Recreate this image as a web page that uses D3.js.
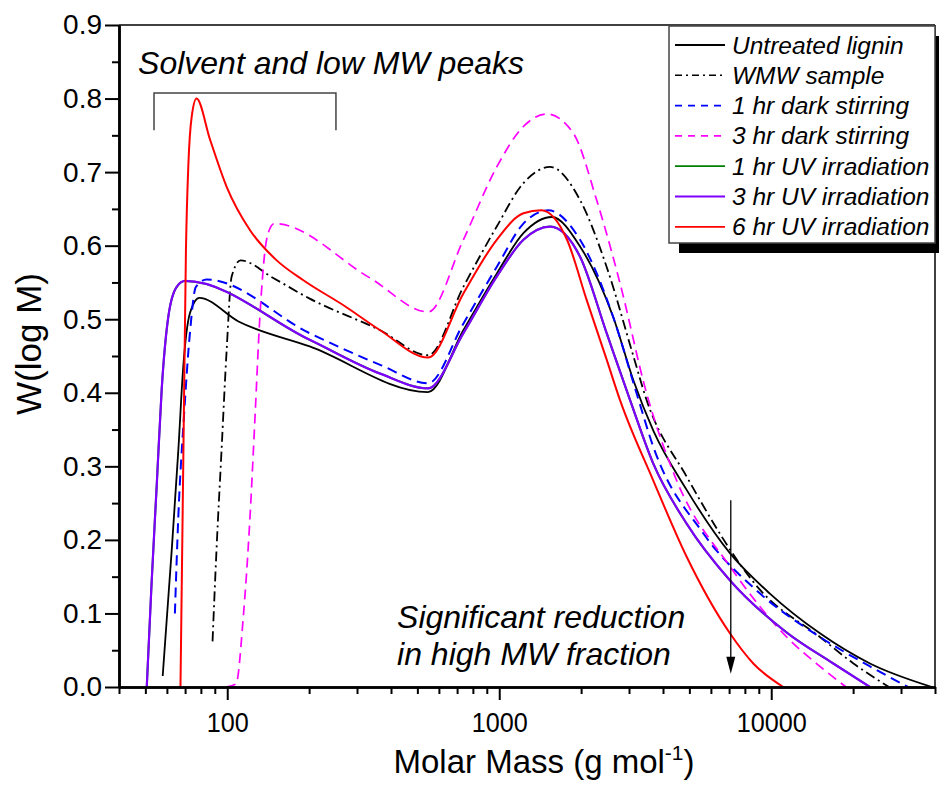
<!DOCTYPE html>
<html>
<head>
<meta charset="utf-8">
<script src="https://cdn.jsdelivr.net/npm/d3@7"></script>
<style>
  body { margin: 0; background: #fff; }
  svg { display: block; }
  text { font-family: "Liberation Sans", Arial, Helvetica, sans-serif; fill: #000; }
</style>
</head>
<body>
<svg id="chart" width="939" height="786"></svg>
<script>
// GPC molar mass distributions: [molar mass (g/mol), W(log M)]
const untreatedLignin = [[57.9,0.015],[62.5,0.186],[66.1,0.322],[68.9,0.435],[72.9,0.508],[78.9,0.529],[110,0.497],[201,0.463],[547,0.401],[738,0.485],[979,0.562],[1227,0.617],[1560,0.639],[1982,0.599],[2624,0.503],[3112,0.417],[3681,0.349],[4887,0.268],[7047,0.182],[9886,0.127],[15100,0.073],[23070,0.032],[39000,0]];
const wmwSample = [[88.3,0.062],[91.3,0.186],[95.3,0.322],[99.5,0.458],[103.8,0.558],[111.9,0.580],[147.6,0.556],[201,0.528],[365,0.485],[548,0.451],[738,0.544],[979,0.626],[1227,0.685],[1538,0.707],[1982,0.662],[2483,0.571],[3112,0.450],[3483,0.390],[4887,0.286],[9101,0.132],[15100,0.068],[20050,0.032],[27100,0]];
const darkStirring1h = [[64.2,0.100],[66.1,0.232],[69.3,0.367],[72.9,0.481],[76.7,0.544],[84,0.554],[201,0.481],[365,0.438],[548,0.413],[738,0.494],[979,0.571],[1227,0.630],[1514,0.648],[1982,0.608],[2624,0.503],[3200,0.399],[3681,0.327],[5623,0.209],[9100,0.127],[15100,0.068],[23070,0.028],[31840,0]];
const darkStirring3h = [[98.9,0],[107.7,0.004],[114.6,0.096],[121.3,0.232],[126.5,0.367],[131.8,0.503],[137.7,0.594],[143,0.622],[149,0.630],[335,0.556],[548,0.510],[738,0.608],[979,0.707],[1227,0.762],[1493,0.779],[1871,0.753],[2281,0.662],[2780,0.549],[3483,0.399],[4487,0.281],[7047,0.164],[11400,0.068],[15100,0.028],[18840,0]];
const uvIrradiation1h = [[50.6,0],[52.7,0.141],[55.1,0.277],[57.4,0.404],[60.7,0.503],[65.2,0.544],[70,0.552],[201,0.472],[365,0.426],[548,0.406],[738,0.481],[979,0.558],[1227,0.608],[1538,0.626],[1982,0.585],[2483,0.481],[3027,0.390],[3681,0.304],[4887,0.222],[7047,0.145],[11400,0.074],[16900,0.032],[23070,0]];
const uvIrradiation3h = [[50.6,0],[52.7,0.141],[55.1,0.277],[57.4,0.404],[60.7,0.503],[65.2,0.544],[70,0.552],[201,0.472],[365,0.426],[548,0.406],[738,0.481],[979,0.558],[1227,0.608],[1538,0.626],[1982,0.585],[2483,0.481],[3027,0.390],[3681,0.304],[4887,0.222],[7047,0.145],[11400,0.074],[16900,0.032],[23070,0]];
const uvIrradiation6h = [[67.3,0],[68.9,0.30],[70.5,0.594],[72,0.712],[74,0.775],[77.1,0.800],[86.5,0.744],[99.5,0.680],[121.3,0.621],[152,0.580],[190.5,0.553],[270,0.518],[365,0.485],[548,0.448],[738,0.535],[979,0.608],[1227,0.644],[1429,0.648],[1775,0.608],[2097,0.526],[2483,0.445],[2780,0.390],[3681,0.281],[4887,0.177],[7047,0.073],[8590,0.032],[11070,0]];

const seriesNames = ["Untreated lignin","WMW sample","1 hr dark stirring","3 hr dark stirring","1 hr UV irradiation","3 hr UV irradiation","6 hr UV irradiation"];

// Axis ticks
const xMajorTicks = [100, 1000, 10000];
const xMinorTicks = [40,50,60,70,80,90,200,300,400,500,600,700,800,900,2000,3000,4000,5000,6000,7000,8000,9000,20000,30000,40000];
const yMajorTicks = [0,0.1,0.2,0.3,0.4,0.5,0.6,0.7,0.8,0.9];
const yMinorTicks = [0.05,0.15,0.25,0.35,0.45,0.55,0.65,0.75,0.85];

// Annotations
const bracketSpan = [53.8, 251];      // molar mass range of the bracket
const bracketLevels = [0.8075, 0.757]; // bar level, foot level
const arrowMass = 7100;
const arrowLevels = [0.254, 0.018];   // tail, tip

const series = [
  { name: seriesNames[0], data: untreatedLignin, color: "#000000", dash: null,       legendDash: null,      width: 1.8 },
  { name: seriesNames[1], data: wmwSample,       color: "#000000", dash: "10,4,2,4", legendDash: "7,4,2,4", width: 1.8 },
  { name: seriesNames[2], data: darkStirring1h,  color: "#0000ff", dash: "10,6",     legendDash: "7,6",     width: 2 },
  { name: seriesNames[3], data: darkStirring3h,  color: "#ff00ff", dash: "10,6",     legendDash: "7,6",     width: 1.7 },
  { name: seriesNames[4], data: uvIrradiation1h, color: "#008000", dash: null,       legendDash: null,      width: 2 },
  { name: seriesNames[5], data: uvIrradiation3h, color: "#7f00ff", dash: null,       legendDash: null,      width: 2.2 },
  { name: seriesNames[6], data: uvIrradiation6h, color: "#ff0000", dash: null,       legendDash: null,      width: 2 }
];

const svg = d3.select("#chart");
const margin = { top: 25, right: 4, bottom: 99, left: 119 };
const W = 939, H = 786;

const x = d3.scaleLog().domain([40, 40000]).range([margin.left, W - margin.right]);
const y = d3.scaleLinear().domain([0, 0.9]).range([H - margin.bottom, margin.top]);

const line = d3.line()
  .x(d => x(d[0]))
  .y(d => y(d[1]))
  .curve(d3.curveMonotoneX);

// Frame (top and right)
svg.append("line").attr("x1", x.range()[0]).attr("x2", x.range()[1])
  .attr("y1", y.range()[1]).attr("y2", y.range()[1])
  .attr("stroke", "#000").attr("stroke-width", 1.5);
svg.append("line").attr("x1", x.range()[1]).attr("x2", x.range()[1])
  .attr("y1", y.range()[1]).attr("y2", y.range()[0])
  .attr("stroke", "#000").attr("stroke-width", 1.5);

// Curves
const curves = svg.append("g").attr("fill", "none");
series.forEach(s => {
  curves.append("path")
    .attr("d", line(s.data))
    .attr("stroke", s.color)
    .attr("stroke-width", s.width)
    .attr("stroke-dasharray", s.dash)
    .attr("stroke-linejoin", "round");
});

// Axes
function styleAxis(g) {
  g.selectAll(".domain").attr("stroke-width", 2.5);
  g.selectAll(".tick line").attr("stroke-width", 2);
}
const xAxisY = y(0);
svg.append("g").attr("transform", `translate(0,${xAxisY})`)
  .call(d3.axisBottom(x).tickValues(xMinorTicks).tickSize(7).tickSizeOuter(0).tickFormat(""))
  .call(styleAxis);
const gx = svg.append("g").attr("transform", `translate(0,${xAxisY})`)
  .call(d3.axisBottom(x).tickValues(xMajorTicks).tickSize(13).tickSizeOuter(0).tickPadding(12)
    .tickFormat(d3.format("d")))
  .call(styleAxis);
gx.selectAll(".tick text").attr("font-size", 28)
  .attr("font-family", '"Liberation Sans", Arial, sans-serif')
  .attr("transform", "scale(0.9,1)");

const yAxisX = x.range()[0];
svg.append("g").attr("transform", `translate(${yAxisX},0)`)
  .call(d3.axisLeft(y).tickValues(yMinorTicks).tickSize(7).tickSizeOuter(0).tickFormat(""))
  .call(styleAxis);
const gy = svg.append("g").attr("transform", `translate(${yAxisX},0)`)
  .call(d3.axisLeft(y).tickValues(yMajorTicks).tickSize(14).tickSizeOuter(0).tickPadding(3)
    .tickFormat(d3.format(".1f")))
  .call(styleAxis);
gy.selectAll(".tick text").attr("font-size", 28)
  .attr("font-family", '"Liberation Sans", Arial, sans-serif');

// Axis titles
const xTitle = svg.append("text")
  .attr("x", 544)
  .attr("y", 773)
  .attr("text-anchor", "middle")
  .attr("font-size", 33);
xTitle.append("tspan").text("Molar Mass (g mol");
xTitle.append("tspan").attr("font-size", 21).attr("dy", -13).text("-1");
xTitle.append("tspan").attr("dy", 13).text(")");

svg.append("text")
  .attr("transform", `translate(41,${(y.range()[0] + y.range()[1]) / 2 - 12}) rotate(-90)`)
  .attr("text-anchor", "middle")
  .attr("font-size", 35)
  .text("W(log M)");

// "Solvent and low MW peaks" label with bracket
svg.append("text")
  .attr("x", x(47)).attr("y", y(0.833))
  .attr("font-size", 32).attr("font-style", "italic")
  .text("Solvent and low MW peaks");
svg.append("path")
  .attr("d", d3.line()([
    [x(bracketSpan[0]), y(bracketLevels[1])],
    [x(bracketSpan[0]), y(bracketLevels[0])],
    [x(bracketSpan[1]), y(bracketLevels[0])],
    [x(bracketSpan[1]), y(bracketLevels[1])]
  ]))
  .attr("fill", "none").attr("stroke", "#444").attr("stroke-width", 1.5);

// High-MW annotation and arrow
const noteText = svg.append("text").attr("font-size", 32).attr("font-style", "italic");
noteText.append("tspan").attr("x", x(421)).attr("y", y(0.080)).text("Significant reduction");
noteText.append("tspan").attr("x", x(421)).attr("y", y(0.030)).text("in high MW fraction");

const ax = x(arrowMass), ay0 = y(arrowLevels[0]), ay1 = y(arrowLevels[1]);
svg.append("line").attr("x1", ax).attr("x2", ax).attr("y1", ay0).attr("y2", ay1 - 10)
  .attr("stroke", "#000").attr("stroke-width", 1.3);
svg.append("path")
  .attr("d", `M${ax - 4.5},${ay1 - 17} L${ax + 4.5},${ay1 - 17} L${ax},${ay1} Z`)
  .attr("fill", "#000");

// Legend with drop shadow
const lg = { x: 669, y: 26, w: 266, h: 217, shadow: 10 };
svg.append("rect").attr("x", lg.x + lg.shadow).attr("y", lg.y + lg.shadow)
  .attr("width", lg.w).attr("height", lg.h).attr("fill", "#000");
svg.append("rect").attr("x", lg.x).attr("y", lg.y)
  .attr("width", lg.w).attr("height", lg.h)
  .attr("fill", "#fff").attr("stroke", "#444").attr("stroke-width", 1.5);

const rowStep = 30.3;
series.forEach((s, i) => {
  const cy = lg.y + 19 + i * rowStep;
  svg.append("line")
    .attr("x1", lg.x + 6).attr("x2", lg.x + 56)
    .attr("y1", cy).attr("y2", cy)
    .attr("stroke", s.color).attr("stroke-width", s.dash ? 1.6 : 1.8)
    .attr("stroke-dasharray", s.legendDash);
  svg.append("text")
    .attr("x", lg.x + 63).attr("y", cy + 8.5)
    .attr("font-size", 24.5).attr("font-style", "italic")
    .text(s.name);
});
</script>
</body>
</html>
